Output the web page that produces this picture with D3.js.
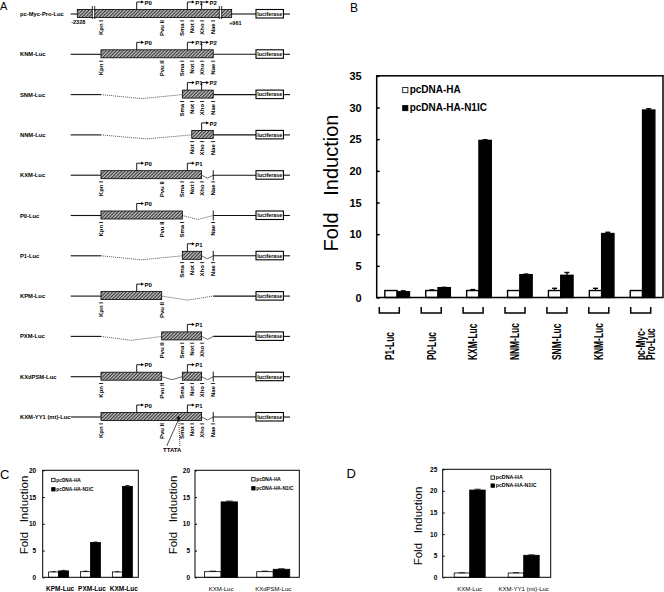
<!DOCTYPE html>
<html><head><meta charset="utf-8">
<script src="https://cdn.jsdelivr.net/npm/d3@7"></script>
<style>
body{margin:0;background:#fff;}
svg{display:block;font-family:"Liberation Sans",Arial,sans-serif;}
</style></head><body>
<svg id="fig" width="664" height="592"></svg>
<script>
// ---------- DATA ----------
const seriesNames = ["pcDNA-HA", "pcDNA-HA-N1IC"];

// Panel B
const bCategories = ["P1-Luc","P0-Luc","KXM-Luc","NNM-Luc","SNM-Luc","KNM-Luc","pc-Myc-Pro-Luc"];
const bLabelLines = [["P1-Luc"],["P0-Luc"],["KXM-Luc"],["NNM-Luc"],["SNM-Luc"],["KNM-Luc"],["pc-Myc-","Pro-Luc"]];
const bControl    = [1.1, 1.1, 1.1, 1.1, 1.1, 1.1, 1.1];
const bControlErr = [0, 0.1, 0.15, 0, 0.35, 0.35, 0];
const bN1IC       = [0.9, 1.55, 24.8, 3.6, 3.5, 10.1, 29.6];
const bN1ICErr    = [0.15, 0.05, 0.1, 0.1, 0.45, 0.2, 0.2];
const bTicks      = [0, 5, 10, 15, 20, 25, 30, 35];

// Panel C (left)
const c1Categories = ["KPM-Luc","PXM-Luc","KXM-Luc"];
const c1Control    = [1.0, 1.05, 1.0];
const c1ControlErr = [0.05, 0.1, 0.05];
const c1N1IC       = [1.2, 6.5, 17.0];
const c1N1ICErr    = [0.1, 0.1, 0.15];
const cTicks       = [0, 5, 10, 15, 20];

// Panel C (right)
const c2Categories = ["KXM-Luc","KXdPSM-Luc"];
const c2Control    = [1.05, 1.05];
const c2ControlErr = [0.1, 0.1];
const c2N1IC       = [14.1, 1.5];
const c2N1ICErr    = [0.15, 0.1];

// Panel D
const dCategories = ["KXM-Luc","KXM-YY1 (mt)-Luc"];
const dControl    = [1.0, 1.0];
const dControlErr = [0.05, 0.05];
const dN1IC       = [20.2, 5.1];
const dN1ICErr    = [0.2, 0.1];
const dTicks      = [0, 5, 10, 15, 20, 25];

// Panel A (construct map, positions in relative map units)
const aConstructs = ["pc-Myc-Pro-Luc","KNM-Luc","SNM-Luc","NNM-Luc","KXM-Luc","P0-Luc","P1-Luc","KPM-Luc","PXM-Luc","KXdPSM-Luc","KXM-YY1 (mt)-Luc"];
const mapPos = {start:0, mycS:3, brk1:10.4, Kpn:13.8, P0:30.1, Pvu:41.5, TTATA:46.3, YY1:49.1, Sma:50.9, P1:53.2, Not:55.2, Xho:59.7, P2:59.7, Nae:65, brk2:68.3, mycE:73.4, lucS:84.5, lucE:97, end:100};
const siteKeys = {"Kpn I":"Kpn","Pvu II":"Pvu","Sma I":"Sma","Not I":"Not","Xho I":"Xho","Nae I":"Nae"};
const allSites = ["Kpn I","Pvu II","Sma I","Not I","Xho I","Nae I"];
const aSegments = [
  [["line","start","mycS"],["box","mycS","mycE"],["line","mycE","lucS"]],
  [["line","start","Kpn"],["box","Kpn","Nae"],["line","Nae","lucS"]],
  [["line","start","Kpn"],["dot","Kpn","Sma"],["box","Sma","Nae"],["line","Nae","lucS"]],
  [["line","start","Kpn"],["dot","Kpn","Not"],["box","Not","Nae"],["line","Nae","lucS"]],
  [["line","start","Kpn"],["box","Kpn","Xho"],["notch","Xho","Nae"],["line","Nae","lucS"]],
  [["line","start","Kpn"],["box","Kpn","Sma"],["dot","Sma","Nae"],["line","Nae","lucS"]],
  [["line","start","Kpn"],["dot","Kpn","Sma"],["box","Sma","Xho"],["notch","Xho","Nae"],["line","Nae","lucS"]],
  [["line","start","Kpn"],["box","Kpn","Pvu"],["dot","Pvu","Nae"],["line","Nae","lucS"]],
  [["line","start","Kpn"],["dot","Kpn","Pvu"],["box","Pvu","Xho"],["notch","Xho","Nae"],["line","Nae","lucS"]],
  [["line","start","Kpn"],["box","Kpn","Pvu"],["notch","Pvu","Sma"],["box","Sma","Xho"],["notch","Xho","Nae"],["line","Nae","lucS"]],
  [["line","start","Kpn"],["box","Kpn","Xho"],["notch","Xho","Nae"],["line","Nae","lucS"]]
];
const aPromoters = [["P0","P1","P2"],["P0","P1","P2"],["P1","P2"],["P2"],["P0","P1"],["P0"],["P1"],["P0"],["P1"],["P0","P1"],["P0","P1"]];
const aSites = [allSites, allSites, ["Sma I","Not I","Xho I","Nae I"], ["Not I","Xho I","Nae I"], allSites,
  ["Kpn I","Pvu II","Sma I","Nae I"], ["Sma I","Not I","Xho I","Nae I"], ["Kpn I","Pvu II"],
  ["Pvu II","Sma I","Not I","Xho I"], allSites, allSites];
const aNaeTick = [false,false,false,false,true,true,true,false,false,true,true];

// ---------- DRAW ----------
const FONT = '"Liberation Sans",Arial,sans-serif';
const svg = d3.select("#fig");
svg.append("rect").attr("width",664).attr("height",592).attr("fill","#fff");

const pat = svg.append("defs").append("pattern").attr("id","hatch")
  .attr("patternUnits","userSpaceOnUse").attr("width",2.4).attr("height",2.4)
  .attr("patternTransform","rotate(45)");
pat.append("rect").attr("width",2.4).attr("height",2.4).attr("fill","#c4c4c4");
pat.append("line").attr("x1",0.6).attr("y1",0).attr("x2",0.6).attr("y2",2.4).attr("stroke","#222").attr("stroke-width",1);

function txt(g, x, y, s, size, weight, anchor){
  return g.append("text").attr("x",x).attr("y",y).attr("font-size",size)
    .attr("font-weight",weight||"normal").attr("text-anchor",anchor||"start")
    .attr("font-family",FONT).attr("fill","#000").text(s);
}

// Panel letters
txt(svg, 0, 10, "A", 11);
txt(svg, 350, 12, "B", 12);
txt(svg, 0, 479, "C", 13);
txt(svg, 346.5, 478, "D", 13);

// ---- Panel A ----
const ax = d3.scaleLinear().domain([0,100]).range([70.7,290]);
const ay = d3.scalePoint().domain(aConstructs).range([14,417]);
const gA = svg.append("g");
aConstructs.forEach((name,i)=>{
  const y = ay(name);
  const g = gA.append("g");
  txt(g, 20, y+2, name, 5.8, "bold");
  aSegments[i].forEach(([type,a,b])=>{
    const x1 = ax(mapPos[a]), x2 = ax(mapPos[b]);
    if(type==="line"){
      g.append("line").attr("x1",x1).attr("x2",x2).attr("y1",y).attr("y2",y).attr("stroke","#111").attr("stroke-width",1.1);
    } else if(type==="dot"){
      g.append("polyline").attr("points",`${x1},${y} ${(x1+x2)/2},${y+4} ${x2},${y}`)
        .attr("fill","none").attr("stroke","#555").attr("stroke-width",1).attr("stroke-dasharray","1,1");
    } else if(type==="notch"){
      g.append("polyline").attr("points",`${x1},${y} ${(x1+x2)/2},${y+3} ${x2},${y}`)
        .attr("fill","none").attr("stroke","#444").attr("stroke-width",0.8);
    }
  });
  aSegments[i].filter(s=>s[0]==="box").forEach(([type,a,b])=>{
    const x1 = ax(mapPos[a]), x2 = ax(mapPos[b]);
    g.append("rect").attr("x",x1).attr("y",y-4.5).attr("width",x2-x1).attr("height",8)
      .attr("fill","url(#hatch)").attr("stroke","#000").attr("stroke-width",0.8);
  });
  // luciferase
  g.append("line").attr("x1",ax(mapPos.lucE)).attr("x2",ax(mapPos.end)).attr("y1",y).attr("y2",y).attr("stroke","#111").attr("stroke-width",1.1);
  g.append("rect").attr("x",ax(mapPos.lucS)).attr("y",y-4.5).attr("width",ax(mapPos.lucE)-ax(mapPos.lucS)).attr("height",8.5)
    .attr("fill","#fff").attr("stroke","#000").attr("stroke-width",1.1);
  txt(g, (ax(mapPos.lucS)+ax(mapPos.lucE))/2, y+1.8, "luciferase", 5.3, "bold", "middle");
  if(aNaeTick[i]){
    g.append("line").attr("x1",ax(mapPos.Nae)).attr("x2",ax(mapPos.Nae)).attr("y1",y-5).attr("y2",y+5).attr("stroke","#000").attr("stroke-width",0.9);
  }
  // sites
  aSites[i].forEach(s=>{
    const x = ax(mapPos[siteKeys[s]]);
    g.append("text").attr("transform",`translate(${x+2},${y+6}) rotate(-90)`)
      .attr("text-anchor","end").attr("font-size",6).attr("font-weight","bold")
      .attr("font-family",FONT).text(s);
  });
  // promoters
  aPromoters[i].forEach(p=>{
    const x = ax(mapPos[p]);
    g.append("path").attr("d",`M${x},${y-4.5}V${y-12}H${x+5.5}`).attr("fill","none").attr("stroke","#000").attr("stroke-width",0.9);
    g.append("path").attr("d",`M${x+4.5},${y-13.6}L${x+7.3},${y-12}L${x+4.5},${y-10.4}Z`).attr("fill","#000");
    txt(g, x+7.8, y-9.3, p, 6, "bold");
  });
  if(i===0){
    [mapPos.brk1, mapPos.brk2].forEach(b=>{
      const x = ax(b);
      g.append("rect").attr("x",x-1.2).attr("y",y-4.3).attr("width",2.4).attr("height",7.6).attr("fill","#fff");
      [x-1.2,x+1.2].forEach(xx=>g.append("line").attr("x1",xx).attr("x2",xx).attr("y1",y-8).attr("y2",y+5).attr("stroke","#000").attr("stroke-width",0.8));
    });
    txt(g, ax(mapPos.mycS)+1, y+10, "-2328", 5.5, "bold", "middle");
    txt(g, ax(mapPos.mycE)-2.5, y+11, "+961", 5.5, "bold", "start");
  }
  if(name==="KXM-YY1 (mt)-Luc"){
    const xs = ax(mapPos.YY1), xt = ax(mapPos.TTATA);
    g.append("line").attr("x1",xs-0.5).attr("y1",y+4).attr("x2",xt-5.5).attr("y2",y+29).attr("stroke","#000").attr("stroke-width",0.7);
    g.append("line").attr("x1",xs+0.5).attr("y1",y+4).attr("x2",xs+1.5).attr("y2",y+29).attr("stroke","#000").attr("stroke-width",0.8).attr("stroke-dasharray","1,1");
    txt(g, xs, y+6.5, "*", 10, "bold", "middle");
    txt(g, xt, y+35, "TTATA", 6, "bold", "middle");
  }
});

// ---- Generic bar chart ----
function barChart(c){
  const g = svg.append("g");
  const x = d3.scaleBand().domain(c.cats).range([c.left,c.right]);
  const y = d3.scaleLinear().domain([0,c.max]).range([c.bottom,c.top]);
  const axis = g.append("g").attr("transform",`translate(${c.left},0)`)
    .call(d3.axisLeft(y).tickValues(c.ticks).tickSizeInner(-c.tick).tickSizeOuter(0).tickPadding(c.pad));
  axis.select(".domain").remove();
  axis.selectAll("line").attr("stroke","#000").attr("stroke-width",c.frameW);
  axis.selectAll("text").attr("font-size",c.tickFont).attr("font-weight","bold").attr("font-family",FONT).attr("fill","#000");
  const series = [{v:c.ctrl,e:c.ctrlErr,fill:"#fff",off:-1},{v:c.n1,e:c.n1Err,fill:"#000",off:0}];
  series.forEach(s=>{
    c.cats.forEach((cat,i)=>{
      const cx = x(cat)+x.bandwidth()/2;
      const bx = cx + s.off*c.barW;
      g.append("rect").attr("x",bx).attr("width",c.barW).attr("y",y(s.v[i])).attr("height",y(0)-y(s.v[i]))
        .attr("fill",s.fill).attr("stroke","#000").attr("stroke-width",c.barStroke);
      if(s.e[i]>0){
        const mx = bx + c.barW/2, top = y(s.v[i]+s.e[i]);
        g.append("line").attr("x1",mx).attr("x2",mx).attr("y1",y(s.v[i])).attr("y2",top).attr("stroke","#000").attr("stroke-width",c.barStroke);
        g.append("line").attr("x1",mx-c.barW*0.2).attr("x2",mx+c.barW*0.2).attr("y1",top).attr("y2",top).attr("stroke","#000").attr("stroke-width",c.barStroke);
      }
    });
  });
  g.append("rect").attr("x",c.left).attr("y",c.top).attr("width",c.right-c.left).attr("height",c.bottom-c.top)
    .attr("fill","none").attr("stroke","#000").attr("stroke-width",c.frameW);
  // legend
  const L = c.legend;
  [{f:"#fff"},{f:"#000"}].forEach((d,j)=>{
    const yy = L.y + j*L.dy;
    g.append("rect").attr("x",L.x).attr("y",yy-L.size).attr("width",L.size).attr("height",L.size)
      .attr("fill",d.f).attr("stroke","#000").attr("stroke-width",0.8);
    txt(g, L.x+L.size+L.gap, yy, seriesNames[j], L.font, "bold");
  });
  // y title
  g.append("text").attr("transform",`translate(${c.titleX},${c.titleY}) rotate(-90)`)
    .attr("text-anchor","middle").attr("font-size",c.titleFont).attr("font-family",FONT)
    .style("white-space","pre").text("Fold   Induction");
  // category labels (horizontal)
  if(c.catFont){
    c.cats.forEach(cat=>{
      txt(g, x(cat)+x.bandwidth()/2 + (c.catShift||0), c.catY, cat, c.catFont, c.catWeight, "middle");
    });
  }
  return {g,x,y};
}

// Panel B
const B = barChart({cats:bCategories, ctrl:bControl, ctrlErr:bControlErr, n1:bN1IC, n1Err:bN1ICErr,
  left:376.7, right:663, top:75.8, bottom:297.5, max:35, ticks:bTicks, tick:3, pad:15, tickFont:11,
  frameW:1.5, barW:12.3, barStroke:1.4,
  legend:{x:402.7, y:92.7, dy:18, size:5.2, gap:1.8, font:10},
  titleX:338, titleY:183, titleFont:20});
// brackets & rotated labels for B
const bp = d3.scalePoint().domain(bCategories).range([389.3,640.7]);
bCategories.forEach((cat,i)=>{
  const cx = bp(cat);
  B.g.append("path").attr("d",`M${cx-10},307V313H${cx+10}V307`).attr("fill","none").attr("stroke","#000").attr("stroke-width",1.5);
  bLabelLines[i].forEach((ln,j)=>{
    B.g.append("text").attr("transform",`translate(${cx+4.3+j*10},360) rotate(-90) scale(0.7,1)`)
      .attr("text-anchor","start").attr("font-size",12).attr("font-weight","bold").attr("font-family",FONT).text(ln);
  });
});

// Panel C left
barChart({cats:c1Categories, ctrl:c1Control, ctrlErr:c1ControlErr, n1:c1N1IC, n1Err:c1N1ICErr,
  left:42.7, right:138.3, top:470.3, bottom:577.3, max:20, ticks:cTicks, tick:2, pad:6.5, tickFont:6.5,
  frameW:1, barW:10, barStroke:0.8,
  legend:{x:51.7, y:481.7, dy:9.3, size:3.4, gap:1.2, font:4.8},
  titleX:28, titleY:515, titleFont:11.5,
  catFont:6.5, catWeight:"bold", catY:591, catShift:1.5});

// Panel C right
barChart({cats:c2Categories, ctrl:c2Control, ctrlErr:c2ControlErr, n1:c2N1IC, n1Err:c2N1ICErr,
  left:195, right:299.3, top:470.3, bottom:577.3, max:20, ticks:cTicks, tick:2, pad:5, tickFont:6.5,
  frameW:1, barW:16.5, barStroke:0.8,
  legend:{x:251.7, y:481, dy:9, size:3.4, gap:1.2, font:4.8},
  titleX:177, titleY:515, titleFont:11.5,
  catFont:6, catWeight:"normal", catY:591});

// Panel D
barChart({cats:dCategories, ctrl:dControl, ctrlErr:dControlErr, n1:dN1IC, n1Err:dN1ICErr,
  left:442.7, right:550.7, top:469.3, bottom:577.3, max:25, ticks:dTicks, tick:2, pad:5.4, tickFont:6.5,
  frameW:1, barW:15.5, barStroke:0.8,
  legend:{x:491, y:479.3, dy:8, size:3.4, gap:1.3, font:5.3},
  titleX:422, titleY:526, titleFont:11.5,
  catFont:6, catWeight:"normal", catY:591});
</script>
</body></html>
